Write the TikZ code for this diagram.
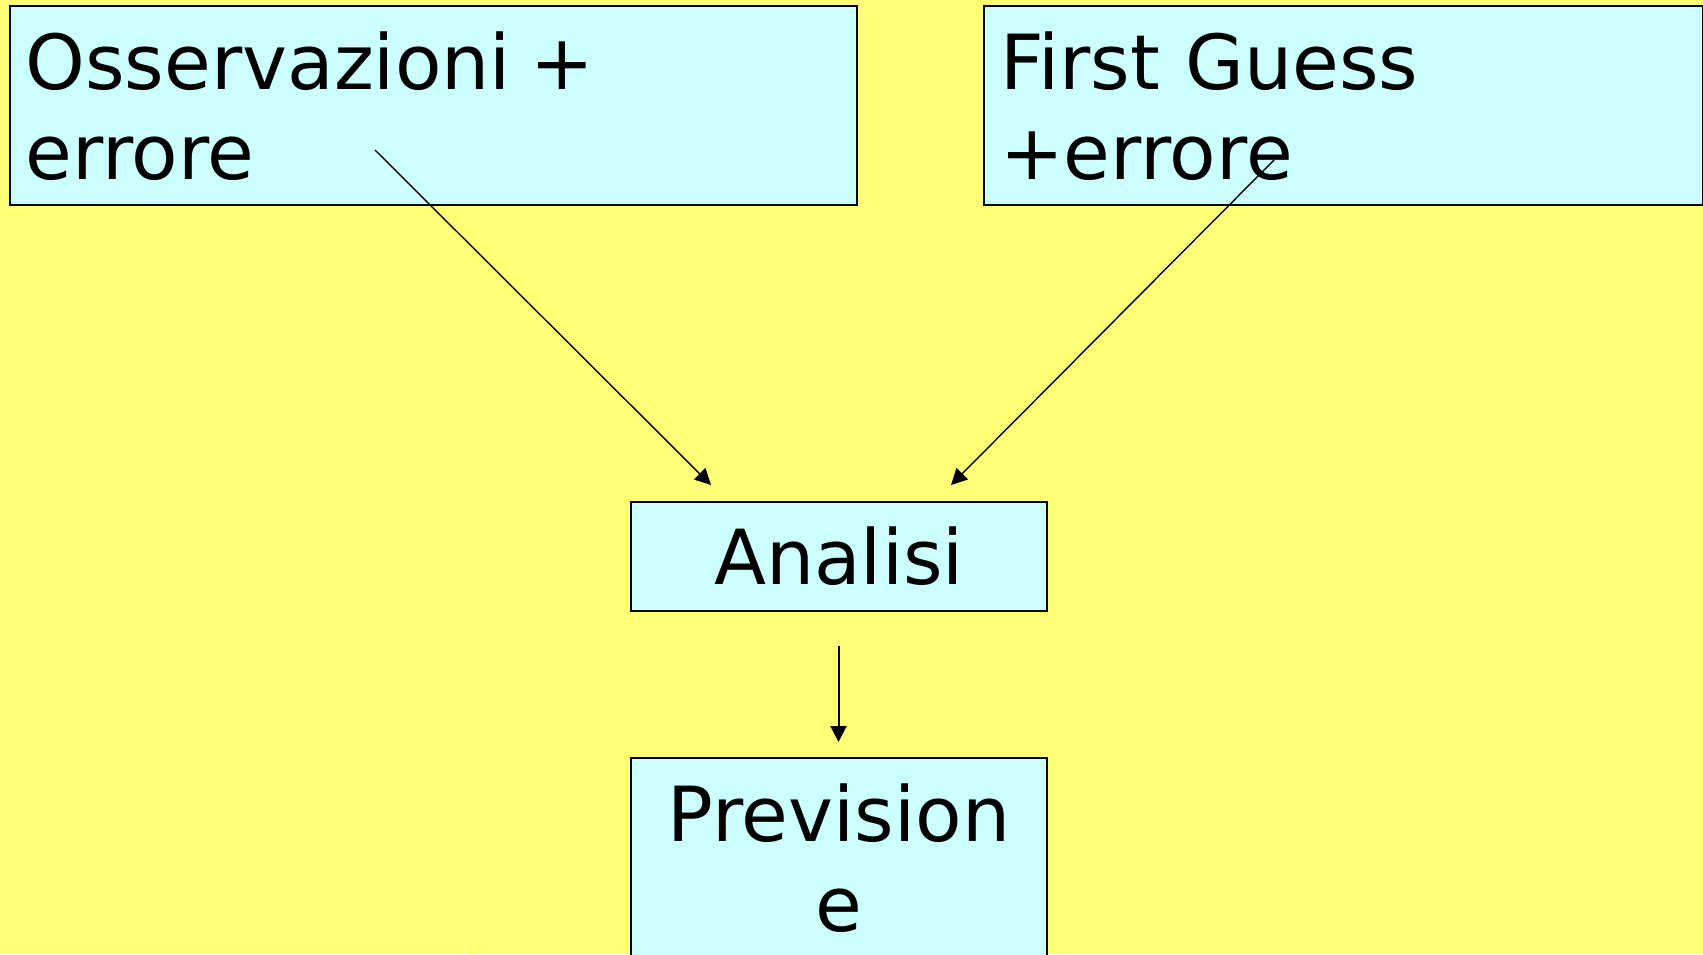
\documentclass[tikz,border=0pt]{standalone}
\usepackage{fontspec}
\setmainfont{DejaVu Sans}
\usepackage{xcolor}
\usetikzlibrary{arrows.meta}

\definecolor{slideyellow}{HTML}{FFFF77}
\definecolor{boxcyan}{HTML}{CCFFFF}

\begin{document}
\begin{tikzpicture}
  [x=0.5pt,y=-0.5pt,
   every node/.style={draw=black,line width=1pt,fill=boxcyan,rectangle,
     inner xsep=8pt,inner ysep=13pt,font=\fontsize{38}{45}\selectfont},
   topbox/.style={anchor=north west,align=left,text depth=44.4pt},
   flow/.style={-{Triangle[length=8pt,width=8pt]},line width=0.7pt}]
  \useasboundingbox (0,0) rectangle (1703,954);
  \fill[slideyellow] (0,0) rectangle (1703,954);
  \fill[white!90!slideyellow] (0,952.5) rectangle (468,954);
  \clip (0,0) rectangle (1703,954);

  \node[topbox,text width=407.75pt] (oss) at (8.5,5) {Osservazioni \kern-3pt+\\errore};
  \node[topbox,text width=343.5pt] (fg) at (983,5) {First Guess\\+errore};
  \node[minimum width=208pt,minimum height=54.5pt,inner ysep=0pt] (ana) at (839,556.5) {Analisi};
  \node[anchor=north,text width=192pt,align=center] (prev) at (839,757) {Prevision\\e};

  \coordinate (oss-out) at (375,150);
  \coordinate (fg-out) at (1274,160);
  \coordinate (ana-inl) at (711,485);
  \coordinate (ana-inr) at (951,485);
  \coordinate (ana-out) at (838.5,646);
  \coordinate (prev-in) at (838.5,742);

  \foreach \from/\to in {oss-out/ana-inl,fg-out/ana-inr}
    \draw[flow] (\from) -- (\to);
  \draw[flow,line width=1pt] (ana-out) -- (prev-in);

\end{tikzpicture}
\end{document}
